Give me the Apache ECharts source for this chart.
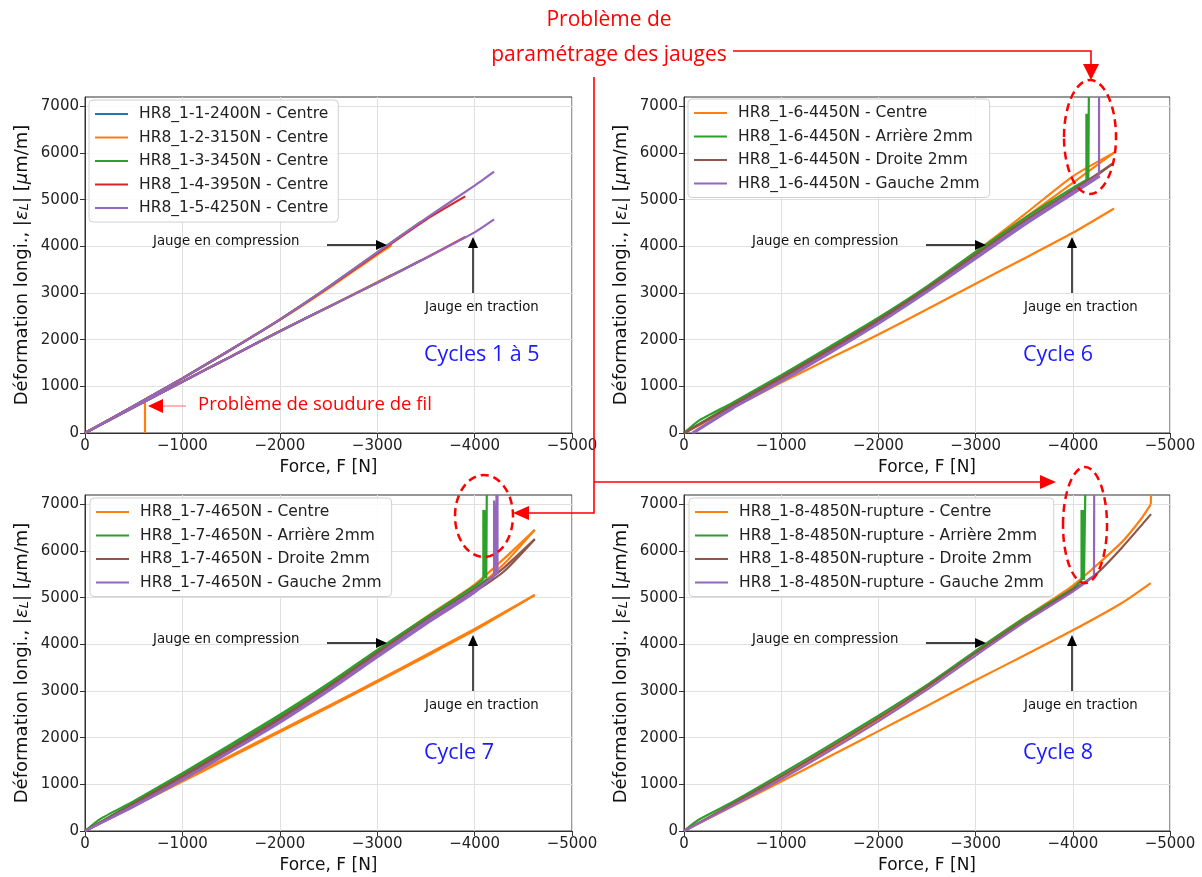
<!DOCTYPE html>
<html><head><meta charset="utf-8">
<script src="https://cdn.jsdelivr.net/npm/echarts@6/dist/echarts.min.js"></script>
<style>html,body{margin:0;padding:0;background:#fff}#c{width:1202px;height:877px}</style>
</head><body><div id="c"></div>
<script>
// ---------- tick labels ----------
const forceTicks = [0, -1000, -2000, -3000, -4000, -5000];
const strainTicks = [0, 1000, 2000, 3000, 4000, 5000, 6000, 7000];

// ---------- Panel 1 : Cycles 1 à 5 ----------
const p1Names = ['HR8_1-1-2400N - Centre','HR8_1-2-3150N - Centre','HR8_1-3-3450N - Centre','HR8_1-4-3950N - Centre','HR8_1-5-4250N - Centre'];
const p1_2400_comp = [[0,0],[-500,580],[-1000,1170],[-1500,1790],[-2000,2430],[-2400,2980]];
const p1_2400_trac = [[0,0],[-500,550],[-1000,1100],[-1500,1640],[-2000,2180],[-2400,2600]];
const p1_3150_comp = [[0,0],[-500,580],[-1000,1170],[-1500,1790],[-2000,2420],[-2500,3100],[-3000,3820],[-3150,4020]];
const p1_3150_trac = [[0,0],[-500,550],[-1000,1100],[-1500,1640],[-2000,2180],[-2500,2700],[-3000,3230],[-3150,3390]];
const p1_3150_fault = [[-616,690],[-616,0]];
const p1_3450_comp = [[0,0],[-500,580],[-1000,1170],[-1500,1790],[-2000,2430],[-2500,3130],[-3000,3870],[-3450,4530]];
const p1_3450_trac = [[0,0],[-500,550],[-1000,1100],[-1500,1640],[-2000,2180],[-2500,2700],[-3000,3220],[-3450,3700]];
const p1_3950_comp = [[0,0],[-500,580],[-1000,1170],[-1500,1790],[-2000,2430],[-2500,3120],[-3000,3850],[-3500,4570],[-3904,5070]];
const p1_3950_trac = [[0,0],[-500,550],[-1000,1100],[-1500,1640],[-2000,2180],[-2500,2700],[-3000,3220],[-3500,3750],[-3904,4200]];
const p1_4250_comp = [[0,0],[-500,580],[-1000,1170],[-1500,1790],[-2000,2430],[-2500,3130],[-3000,3870],[-3500,4600],[-4000,5300],[-4200,5600]];
const p1_4250_trac = [[0,0],[-500,550],[-1000,1100],[-1500,1640],[-2000,2180],[-2500,2700],[-3000,3220],[-3500,3750],[-4000,4300],[-4200,4577]];

// ---------- Panel 2 : Cycle 6 ----------
const p2Names = ['HR8_1-6-4450N - Centre','HR8_1-6-4450N - Arrière 2mm','HR8_1-6-4450N - Droite 2mm','HR8_1-6-4450N - Gauche 2mm'];
const p2_centre_load = [[0,0],[-500,570],[-1000,1150],[-1500,1770],[-2000,2420],[-2500,3120],[-3000,3880],[-3500,4680],[-4000,5500],[-4425,6008]];
const p2_centre_unload = [[-4425,6008],[-4000,5360],[-3500,4600],[-3000,3850],[-2500,3100],[-2000,2400],[-1500,1750],[-1000,1140],[-500,560],[0,0]];
const p2_centre_trac = [[0,0],[-500,540],[-1000,1080],[-1500,1600],[-2000,2110],[-2500,2650],[-3000,3200],[-3500,3740],[-4000,4290],[-4425,4811]];
const p2_arriere_load = [[0,0],[-150,260],[-500,650],[-1000,1240],[-1500,1850],[-2000,2470],[-2500,3140],[-3000,3880],[-3500,4600],[-4000,5250],[-4140,5420]];
const p2_arriere_spike = [[-4140,5420],[-4140,6840],[-4150,5420],[-4155,6840],[-4160,5430],[-4165,7200]];
const p2_arriere_unload = [[-4165,5400],[-4000,5190],[-3500,4540],[-3000,3830],[-2500,3100],[-2000,2430],[-1500,1810],[-1000,1210],[-500,620],[0,0]];
const p2_droite_load = [[0,0],[-500,600],[-1000,1190],[-1500,1800],[-2000,2430],[-2500,3100],[-3000,3820],[-3500,4540],[-4000,5200],[-4410,5770]];
const p2_droite_unload = [[-4410,5770],[-4000,5140],[-3500,4480],[-3000,3770],[-2500,3060],[-2000,2390],[-1500,1770],[-1000,1170],[-500,580],[0,0]];
const p2_gauche_load = [[-80,0],[-500,540],[-1000,1120],[-1500,1730],[-2000,2360],[-2500,3040],[-3000,3760],[-3500,4490],[-4000,5160],[-4270,5530]];
const p2_gauche_spike = [[-4270,5530],[-4270,7200]];
const p2_gauche_unload = [[-4280,5500],[-4000,5120],[-3500,4450],[-3000,3730],[-2500,3020],[-2000,2340],[-1500,1710],[-1000,1100],[-500,520],[-100,0]];

// ---------- Panel 3 : Cycle 7 ----------
const p3Names = ['HR8_1-7-4650N - Centre','HR8_1-7-4650N - Arrière 2mm','HR8_1-7-4650N - Droite 2mm','HR8_1-7-4650N - Gauche 2mm'];
const p3_centre_load = [[0,0],[-500,570],[-1000,1150],[-1500,1760],[-2000,2400],[-2500,3100],[-3000,3860],[-3500,4580],[-4000,5280],[-4300,5830],[-4618,6453]];
const p3_centre_unload = [[-4618,6453],[-4300,5720],[-4000,5180],[-3500,4520],[-3000,3810],[-2500,3070],[-2000,2380],[-1500,1740],[-1000,1120],[-500,550],[0,0]];
const p3_centre_trac_load = [[0,0],[-500,540],[-1000,1090],[-1500,1620],[-2000,2150],[-2500,2680],[-3000,3220],[-3500,3770],[-4000,4330],[-4618,5057]];
const p3_centre_trac_unload = [[-4618,5057],[-4000,4300],[-3500,3740],[-3000,3190],[-2500,2650],[-2000,2120],[-1500,1590],[-1000,1060],[-500,530],[0,0]];
const p3_arriere_load = [[0,0],[-150,250],[-500,640],[-1000,1240],[-1500,1860],[-2000,2490],[-2500,3160],[-3000,3880],[-3500,4570],[-4000,5250],[-4090,5400]];
const p3_arriere_spike = [[-4090,5400],[-4090,6880],[-4100,5410],[-4110,6880],[-4120,5420],[-4125,7200]];
const p3_arriere_unload = [[-4130,5400],[-4000,5200],[-3500,4530],[-3000,3840],[-2500,3120],[-2000,2450],[-1500,1830],[-1000,1210],[-500,610],[0,0]];
const p3_droite_load = [[0,0],[-500,590],[-1000,1180],[-1500,1790],[-2000,2420],[-2500,3090],[-3000,3820],[-3500,4520],[-4000,5180],[-4300,5640],[-4618,6254]];
const p3_droite_unload = [[-4618,6254],[-4300,5560],[-4000,5120],[-3500,4460],[-3000,3770],[-2500,3050],[-2000,2380],[-1500,1760],[-1000,1160],[-500,570],[0,0]];
const p3_gauche_load = [[0,0],[-500,540],[-1000,1110],[-1500,1720],[-2000,2350],[-2500,3030],[-3000,3760],[-3500,4480],[-4000,5150],[-4200,5450]];
const p3_gauche_spike = [[-4200,5450],[-4200,7080],[-4215,5470],[-4225,7200],[-4235,5500],[-4235,7200]];
const p3_gauche_unload = [[-4240,5560],[-4000,5110],[-3500,4430],[-3000,3720],[-2500,3000],[-2000,2320],[-1500,1700],[-1000,1090],[-500,520],[0,0]];

// ---------- Panel 4 : Cycle 8 ----------
const p4Names = ['HR8_1-8-4850N-rupture - Centre','HR8_1-8-4850N-rupture - Arrière 2mm','HR8_1-8-4850N-rupture - Droite 2mm','HR8_1-8-4850N-rupture - Gauche 2mm'];
const p4_centre_comp = [[0,0],[-500,560],[-1000,1140],[-1500,1750],[-2000,2390],[-2500,3080],[-3000,3850],[-3500,4570],[-4000,5260],[-4500,6180],[-4700,6680],[-4802,7000]];
const p4_centre_rupture = [[-4802,7000],[-4805,7200]];
const p4_centre_trac = [[0,0],[-500,530],[-1000,1060],[-1500,1600],[-2000,2140],[-2500,2680],[-3000,3230],[-3500,3760],[-4000,4300],[-4500,4880],[-4802,5313]];
const p4_arriere = [[0,0],[-150,240],[-500,620],[-1000,1220],[-1500,1840],[-2000,2470],[-2500,3130],[-3000,3860],[-3500,4560],[-4000,5200],[-4090,5370]];
const p4_arriere_spike = [[-4090,5370],[-4090,6880],[-4100,5380],[-4110,6880],[-4115,5380],[-4128,7200]];
const p4_droite = [[0,0],[-500,580],[-1000,1170],[-1500,1790],[-2000,2420],[-2500,3090],[-3000,3810],[-3500,4510],[-4000,5170],[-4240,5505],[-4500,6060],[-4805,6790]];
const p4_gauche = [[0,0],[-500,540],[-1000,1110],[-1500,1720],[-2000,2350],[-2500,3030],[-3000,3760],[-3500,4470],[-4000,5130],[-4218,5460]];
const p4_gauche_spike = [[-4218,5460],[-4220,7200]];

// ---------- styling ----------
const C = {blue:'#1f77b4', orange:'#ff7f0e', green:'#2ca02c', red:'#d62728', purple:'#9467bd', brown:'#8c564b'};
const FONT = 'DejaVu Sans';
const grids = [
  {left:85, top:97, width:487, height:336},
  {left:684, top:97, width:486, height:336},
  {left:85, top:495, width:487, height:336},
  {left:684, top:495, width:486, height:336}
];

function xAxisCfg(i){
  return {
    gridIndex:i, type:'value', min:-5000, max:0, interval:1000, inverse:true,
    name:'Force, F [N]', nameLocation:'middle', nameGap:26,
    nameTextStyle:{fontFamily:FONT, fontSize:17, color:'#111'},
    axisLine:{show:true, onZero:false, lineStyle:{color:'#333', width:1}},
    axisTick:{show:true, inside:false, length:5, lineStyle:{color:'#333'}},
    axisLabel:{fontFamily:FONT, fontSize:15, color:'#222', margin:6,
      formatter:v => v===0 ? '0' : '\u2212' + Math.abs(v)},
    splitLine:{show:true, lineStyle:{color:'#e0e0e0', width:1}}
  };
}
function yAxisCfg(i){
  return {
    gridIndex:i, type:'value', min:0, max:7200, interval:1000,
    name:'Déformation longi., |{i|ε}{sub|L}| [{i|μ}m/m]', nameLocation:'middle', nameGap:54,
    nameTextStyle:{fontFamily:FONT, fontSize:18, color:'#111',
      rich:{i:{fontFamily:FONT, fontSize:18, fontStyle:'italic', color:'#111'},
            sub:{fontFamily:FONT, fontSize:13, fontStyle:'italic', color:'#111', verticalAlign:'bottom'}}},
    axisLine:{show:true, onZero:false, lineStyle:{color:'#333', width:1}},
    axisTick:{show:true, inside:false, length:5, lineStyle:{color:'#333'}, customValues:strainTicks},
    axisLabel:{fontFamily:FONT, fontSize:15, color:'#222', margin:6, customValues:strainTicks,
      formatter:v => (v % 1000 === 0 ? String(v) : '')},
    splitLine:{show:true, lineStyle:{color:'#e0e0e0', width:1}}
  };
}

const series = [];
function addLine(name, color, data, gi, smooth){
  series.push({name, type:'line', xAxisIndex:gi, yAxisIndex:gi, data, showSymbol:false, symbol:'none',
    smooth: smooth ? 0.2 : false,
    animation:false, clip:true, lineStyle:{color, width:2.2}, itemStyle:{color}, emphasis:{disabled:true}});
}
const S = true;
// panel 1
addLine(p1Names[0], C.blue, p1_2400_comp, 0, S); addLine(p1Names[0], C.blue, p1_2400_trac, 0, S);
addLine(p1Names[1], C.orange, p1_3150_comp, 0, S); addLine(p1Names[1], C.orange, p1_3150_trac, 0, S); addLine(p1Names[1], C.orange, p1_3150_fault, 0, false);
addLine(p1Names[2], C.green, p1_3450_comp, 0, S); addLine(p1Names[2], C.green, p1_3450_trac, 0, S);
addLine(p1Names[3], C.red, p1_3950_comp, 0, S); addLine(p1Names[3], C.red, p1_3950_trac, 0, S);
addLine(p1Names[4], C.purple, p1_4250_comp, 0, S); addLine(p1Names[4], C.purple, p1_4250_trac, 0, S);
// panel 2
addLine(p2Names[0], C.orange, p2_centre_load, 1, S); addLine(p2Names[0], C.orange, p2_centre_unload, 1, S); addLine(p2Names[0], C.orange, p2_centre_trac, 1, S);
addLine(p2Names[1], C.green, p2_arriere_load, 1, S); addLine(p2Names[1], C.green, p2_arriere_spike, 1, false); addLine(p2Names[1], C.green, p2_arriere_unload, 1, S);
addLine(p2Names[2], C.brown, p2_droite_load, 1, S); addLine(p2Names[2], C.brown, p2_droite_unload, 1, S);
addLine(p2Names[3], C.purple, p2_gauche_load, 1, S); addLine(p2Names[3], C.purple, p2_gauche_spike, 1, false); addLine(p2Names[3], C.purple, p2_gauche_unload, 1, S);
// panel 3
addLine(p3Names[0], C.orange, p3_centre_load, 2, S); addLine(p3Names[0], C.orange, p3_centre_unload, 2, S);
addLine(p3Names[0], C.orange, p3_centre_trac_load, 2, S); addLine(p3Names[0], C.orange, p3_centre_trac_unload, 2, S);
addLine(p3Names[1], C.green, p3_arriere_load, 2, S); addLine(p3Names[1], C.green, p3_arriere_spike, 2, false); addLine(p3Names[1], C.green, p3_arriere_unload, 2, S);
addLine(p3Names[2], C.brown, p3_droite_load, 2, S); addLine(p3Names[2], C.brown, p3_droite_unload, 2, S);
addLine(p3Names[3], C.purple, p3_gauche_load, 2, S); addLine(p3Names[3], C.purple, p3_gauche_spike, 2, false); addLine(p3Names[3], C.purple, p3_gauche_unload, 2, S);
// panel 4
addLine(p4Names[0], C.orange, p4_centre_comp, 3, S); addLine(p4Names[0], C.orange, p4_centre_rupture, 3, false); addLine(p4Names[0], C.orange, p4_centre_trac, 3, S);
addLine(p4Names[1], C.green, p4_arriere, 3, S); addLine(p4Names[1], C.green, p4_arriere_spike, 3, false);
addLine(p4Names[2], C.brown, p4_droite, 3, S);
addLine(p4Names[3], C.purple, p4_gauche, 3, S); addLine(p4Names[3], C.purple, p4_gauche_spike, 3, false);

function legendCfg(names, left, top){
  return {data:names, left, top, orient:'vertical', icon:'rect', itemWidth:33, itemHeight:2.2,
    itemGap:5.5, padding:[5,10,5,6], selectedMode:false,
    backgroundColor:'rgba(255,255,255,0.85)', borderColor:'#d0d0d0', borderWidth:1, borderRadius:4,
    textStyle:{fontFamily:FONT, fontSize:15.5, color:'#222', lineHeight:18, padding:[0,0,0,6]}};
}

// ---------- annotations ----------
const graphic = [];
const offs = [[0,0],[599,0],[0,398],[599,398]];
const cycleLabels = ['Cycles 1 à 5','Cycle 6','Cycle 7','Cycle 8'];
offs.forEach((o,k)=>{
  const dx=o[0], dy=o[1];
  graphic.push({type:'text', z:100, style:{text:'Jauge en compression', x:153+dx, y:242+dy, textVerticalAlign:'middle', font:'13.3px "DejaVu Sans"', fill:'#111'}});
  graphic.push({type:'polyline', z:100, shape:{points:[[327+dx,245+dy],[377+dx,245+dy]]}, style:{stroke:'#000', lineWidth:1.4}});
  graphic.push({type:'polygon', z:100, shape:{points:[[376+dx,240+dy],[376+dx,250+dy],[387+dx,245+dy]]}, style:{fill:'#000'}});
  graphic.push({type:'text', z:100, style:{text:'Jauge en traction', x:425+dx, y:308+dy, textVerticalAlign:'middle', font:'13.3px "DejaVu Sans"', fill:'#111'}});
  graphic.push({type:'polyline', z:100, shape:{points:[[473+dx,293+dy],[473+dx,247+dy]]}, style:{stroke:'#000', lineWidth:1.4}});
  graphic.push({type:'polygon', z:100, shape:{points:[[468+dx,248+dy],[478+dx,248+dy],[473+dx,237+dy]]}, style:{fill:'#000'}});
  graphic.push({type:'text', z:100, style:{text:cycleLabels[k], x:424+dx, y:355+dy, textVerticalAlign:'middle', font:'21.5px "Open Sans"', fill:'#1a1aff'}});
});
// red annotations
const RED = '#ff0000';
graphic.push({type:'text', z:100, style:{text:'Problème de', x:609, y:20, textAlign:'center', textVerticalAlign:'middle', font:'21px "Open Sans"', fill:RED}});
graphic.push({type:'text', z:100, style:{text:'paramétrage des jauges', x:609, y:55, textAlign:'center', textVerticalAlign:'middle', font:'21px "Open Sans"', fill:RED}});
graphic.push({type:'polyline', z:100, shape:{points:[[733,51],[1091,51],[1091,66]]}, style:{stroke:RED, lineWidth:1.6}});
graphic.push({type:'polygon', z:100, shape:{points:[[1083,64],[1099,64],[1091,80]]}, style:{fill:RED}});
graphic.push({type:'polyline', z:100, shape:{points:[[594,77],[594,513],[528,513]]}, style:{stroke:RED, lineWidth:1.6}});
graphic.push({type:'polygon', z:100, shape:{points:[[529,506],[529,520],[513,513]]}, style:{fill:RED}});
graphic.push({type:'polyline', z:100, shape:{points:[[594,482],[1041,482]]}, style:{stroke:RED, lineWidth:1.6}});
graphic.push({type:'polygon', z:100, shape:{points:[[1040,475],[1040,489],[1056,482]]}, style:{fill:RED}});
graphic.push({type:'ellipse', z:100, shape:{cx:1090, cy:137, rx:26, ry:57}, style:{fill:'transparent', stroke:RED, lineWidth:2.5, lineDash:[8,5]}});
graphic.push({type:'ellipse', z:100, shape:{cx:484, cy:516, rx:29, ry:41}, style:{fill:'transparent', stroke:RED, lineWidth:2.5, lineDash:[8,5]}});
graphic.push({type:'ellipse', z:100, shape:{cx:1085, cy:525, rx:22, ry:58}, style:{fill:'transparent', stroke:RED, lineWidth:2.5, lineDash:[8,5]}});
graphic.push({type:'text', z:100, style:{text:'Problème de soudure de fil', x:198, y:405, textVerticalAlign:'middle', font:'18.5px "Open Sans"', fill:RED}});
graphic.push({type:'polyline', z:100, shape:{points:[[186,406],[162,406]]}, style:{stroke:'#ff8080', lineWidth:1.2}});
graphic.push({type:'polygon', z:100, shape:{points:[[163,399],[163,413],[148,406]]}, style:{fill:RED}});

const chart = echarts.init(document.getElementById('c'), null, {renderer:'canvas'});
chart.setOption({
  animation:false,
  backgroundColor:'#ffffff',
  grid: grids.map(g => Object.assign({show:true, borderColor:'#333', borderWidth:1, backgroundColor:'transparent', containLabel:false}, g)),
  xAxis: [0,1,2,3].map(xAxisCfg),
  yAxis: [0,1,2,3].map(yAxisCfg),
  legend: [legendCfg(p1Names, 89, 100), legendCfg(p2Names, 688, 99), legendCfg(p3Names, 90, 498), legendCfg(p4Names, 689, 498)],
  series,
  graphic
});
</script></body></html>
